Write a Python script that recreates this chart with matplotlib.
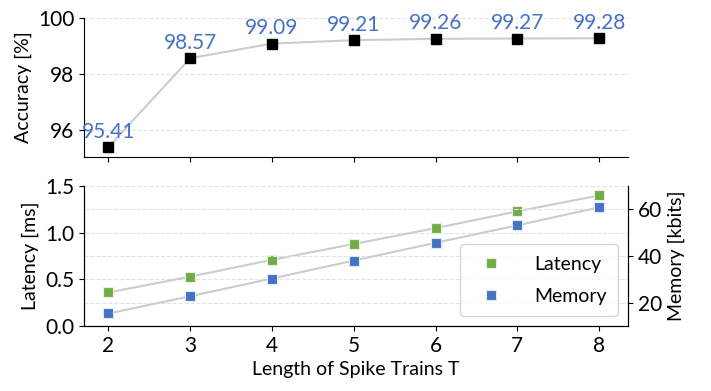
import matplotlib.pyplot as plt
import matplotlib

matplotlib.rcParams.update({'font.size': 14, 'font.family': ['Lato', 'DejaVu Sans']})

# Data
T = [2, 3, 4, 5, 6, 7, 8]
accuracy = [95.41, 98.57, 99.09, 99.21, 99.26, 99.27, 99.28]
latency = [0.36, 0.53, 0.71, 0.88, 1.05, 1.23, 1.40]
memory = [15.4, 22.8, 30.4, 38.1, 45.7, 53.2, 60.9]

green = '#70AD47'
blue = '#4472C4'
line_gray = '#cccccc'
grid_kw = dict(color='#e3e3e3', linestyle='--', linewidth=0.8)

fig = plt.figure(figsize=(7.11, 3.91), dpi=100)
ax1 = fig.add_axes([0.118, 0.598, 0.765, 0.356])
ax2 = fig.add_axes([0.118, 0.166, 0.765, 0.358])

# Top: accuracy
ax1.plot(T, accuracy, color=line_gray, linewidth=1.5, zorder=2)
ax1.plot(T, accuracy, 's', color='black', markersize=7.5, zorder=3)
for x, a in zip(T, accuracy):
    ax1.annotate(f"{a:.2f}", (x, a), xytext=(0, 4), textcoords='offset points',
                 ha='center', va='bottom', color=blue, fontsize=15)
ax1.set_xlim(1.7, 8.35)
ax1.set_ylim(95.05, 100)
ax1.set_yticks([96, 98, 100])
ax1.set_xticks(T)
ax1.set_xticklabels([])
ax1.tick_params(labelsize=15)
ax1.set_ylabel('Accuracy [%]')
ax1.yaxis.grid(True, **grid_kw)
ax1.set_axisbelow(True)
ax1.spines['top'].set_visible(False)
ax1.spines['right'].set_visible(False)

# Bottom: latency and memory
ax2.plot(T, latency, color=line_gray, linewidth=1.5, zorder=2)
h1, = ax2.plot(T, latency, 's', color=green, markersize=7.5, markeredgecolor='#e8f0e0',
               markeredgewidth=0.8, zorder=3, label='Latency')
ax2.set_xlim(1.7, 8.35)
ax2.set_ylim(0, 1.5)
ax2.set_yticks([0.0, 0.5, 1.0, 1.5])
ax2.set_xticks(T)
ax2.tick_params(labelsize=15)
ax2.set_ylabel('Latency [ms]')
ax2.set_xlabel('Length of Spike Trains T')
ax2.yaxis.grid(True, **grid_kw)
ax2.set_axisbelow(True)
ax2.spines['top'].set_visible(False)

ax3 = ax2.twinx()
ax3.plot(T, memory, color=line_gray, linewidth=1.5, zorder=2)
h2, = ax3.plot(T, memory, 's', color=blue, markersize=7.5, markeredgecolor='#e0e8f5',
               markeredgewidth=0.8, zorder=3, label='Memory')
ax3.set_ylim(10, 70)
ax3.set_yticks([20, 40, 60])
ax3.tick_params(labelsize=15)
ax3.set_ylabel('Memory [kbits]')
ax3.yaxis.grid(True, **grid_kw)
ax3.spines['top'].set_visible(False)

ax3.legend([h1, h2], ['Latency', 'Memory'], loc='lower right', fontsize=14,
           handletextpad=1.2, borderpad=0.6, labelspacing=0.75)

plt.savefig('out.png', dpi=100)
